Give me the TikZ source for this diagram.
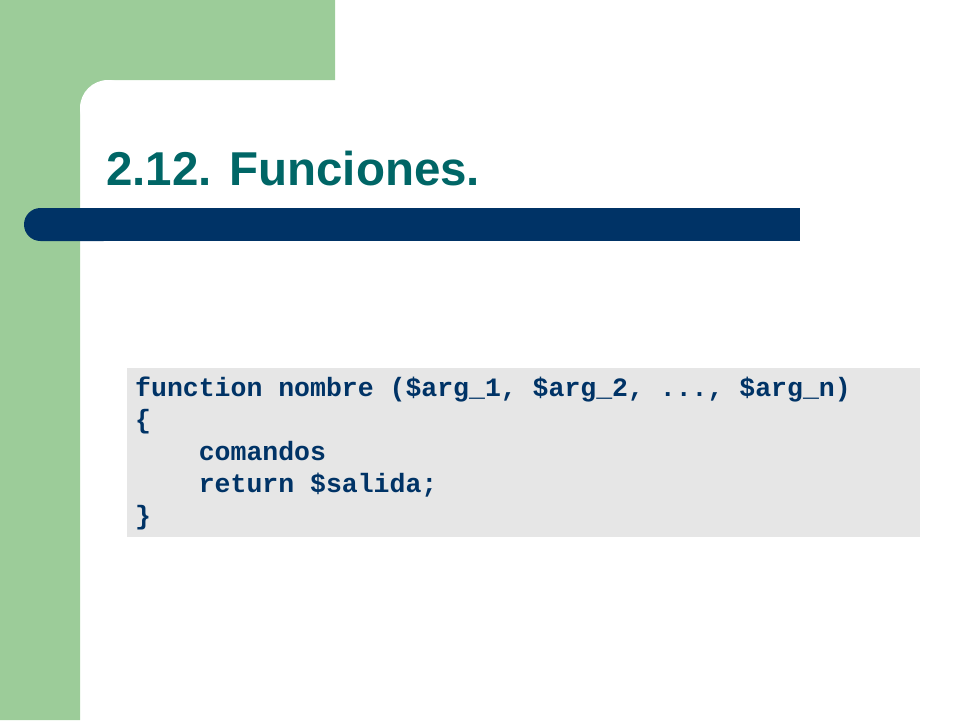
\documentclass[tikz,border=0pt]{standalone}
\usepackage{fontspec}
\setmainfont{Liberation Sans}
\setmonofont{Liberation Mono}
\usetikzlibrary{positioning}
\definecolor{slidegreen}{RGB}{156,204,153}
\definecolor{barblue}{RGB}{0,51,102}
\definecolor{titleteal}{RGB}{0,102,102}
\definecolor{codegray}{RGB}{230,230,230}
\tikzset{
  title/.style={anchor=base west, inner sep=0pt, text=titleteal, font=\bfseries\fontsize{47.5}{56}\selectfont},
  codeline/.style={anchor=base west, inner sep=0pt, text=barblue, font=\ttfamily\bfseries\fontsize{26.5}{32}\selectfont},
}

\begin{document}
\begin{tikzpicture}[x=1pt, y=-1pt]
  \useasboundingbox (0,0) rectangle (960,720);
  % background
  \fill[slidegreen] (0,0) -- (335,0) -- (335,80) -- (108,80) -- (108,108) -- (80,108) -- (80,720) -- (0,720) -- cycle;
  \fill[white] (108,108) circle[radius=28pt];
  % title bar
  \fill[barblue, rounded corners=16.5pt] (24,208) rectangle (120,241);
  \fill[barblue] (60,208) rectangle (800,241);
  \node (titel) [title] at (106,185) {2.12. Funciones.};
  % code
  \node (codebox) [fill=codegray, inner sep=0pt, minimum width=793pt, minimum height=169pt, anchor=north west] at (127,368) {};
  \node (l1) [codeline] at (135,396) {function nombre (\$arg\_1, \$arg\_2, ..., \$arg\_n)};
  \node (l2) [codeline] at (135,428) {\{};
  \node (l3) [codeline] at (135,460) {\phantom{xxxx}comandos};
  \node (l4) [codeline] at (135,492) {\phantom{xxxx}return \$salida;};
  \node (l5) [codeline] at (135,524) {\}};
\end{tikzpicture}
\end{document}
